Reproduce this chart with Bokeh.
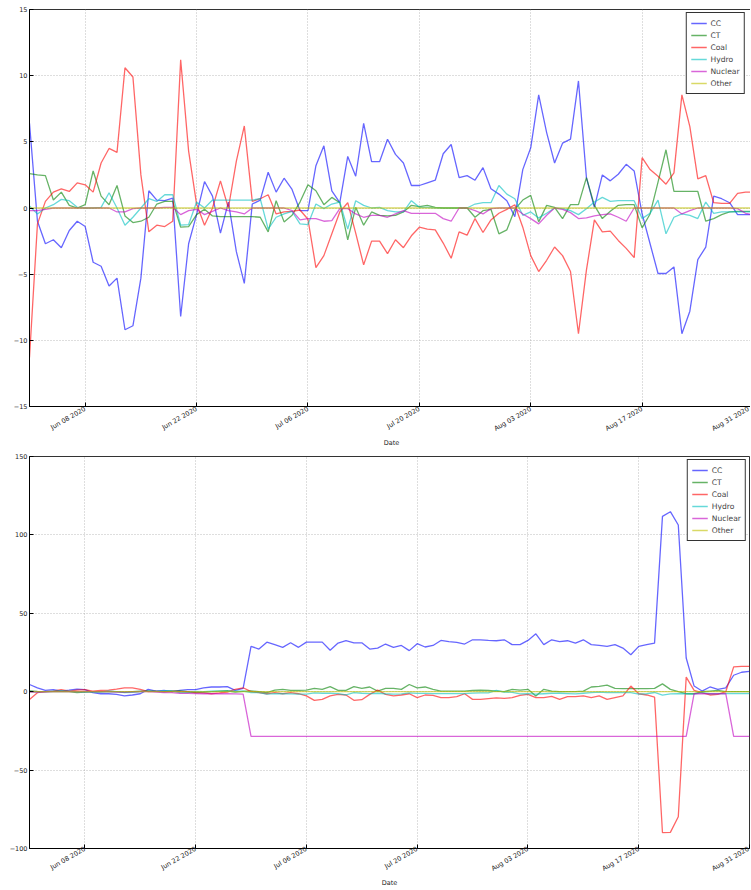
import math
from datetime import datetime, timedelta

from bokeh.plotting import figure
from bokeh.layouts import column
from bokeh.models import Range1d, FixedTicker, DatetimeTickFormatter
from bokeh.embed import file_html
from bokeh.resources import INLINE

# ---------------- data ----------------
start_date = datetime(2020, 6, 1)
n_days = 92
dates = [start_date + timedelta(days=i) for i in range(n_days)]

series_names = ["CC", "CT", "Coal", "Hydro", "Nuclear", "Other"]
series_colors = ["#0000ff", "#008000", "#ff0000", "#00bfbf", "#bf00bf", "#bfbf00"]

# top panel
cc_top = [6.4, -1.0, -2.7, -2.4, -3.0, -1.7, -1.0, -1.4, -4.1, -4.4,
          -5.9, -5.3, -9.2, -8.9, -5.3, 1.3, 0.6, 0.55, 0.75, -8.2,
          -2.7, -0.5, 2.0, 0.9, -1.9, 0.45, -3.3, -5.7, 0.3, 0.6,
          2.7, 1.2, 2.25, 1.4, -0.2, -0.2, 3.2, 4.7, 1.3, 0.4,
          3.9, 2.4, 6.4, 3.5, 3.5, 5.2, 4.05, 3.4, 1.7, 1.7,
          1.9, 2.1, 4.1, 4.8, 2.3, 2.45, 2.1, 3.05, 1.45, 1.05,
          0.55, -0.65, 2.9, 4.55, 8.55, 5.7, 3.4, 4.9, 5.2, 9.6,
          2.3, 0.05, 2.5, 2.05, 2.55, 3.3, 2.8, -0.45, -2.7, -4.95,
          -4.95, -4.45, -9.5, -7.8, -3.9, -2.95, 0.9, 0.7, 0.4, -0.5,
          -0.5, -0.5]
ct_top = [2.6, 2.5, 2.45, 0.6, 1.2, 0.2, 0.0, 0.25, 2.8, 0.9,
          0.25, 1.7, -0.6, -1.1, -1.0, -0.7, 0.3, 0.5, 0.5, -1.45,
          -1.4, -0.5, -0.1, -0.6, -0.65, -0.65, -0.65, -0.65, -0.65, -0.7,
          -1.8, 0.55, -1.05, -0.55, 0.45, 1.75, 1.3, 0.25, 0.8, 0.4,
          -2.4, 0.05, -1.3, -0.3, -0.55, -0.6, -0.55, -0.3, 0.2, 0.1,
          0.2, 0.05, 0.0, 0.0, 0.0, 0.0, -0.7, -0.2, -0.1, -1.95,
          -1.65, -0.1, 0.6, 0.95, -1.05, 0.2, 0.05, -0.8, 0.25, 0.25,
          2.3, 0.2, -0.8, -0.25, 0.2, 0.25, 0.25, -1.5, -0.45, 1.95,
          4.4, 1.25, 1.25, 1.25, 1.25, -1.0, -0.8, -0.5, -0.3, -0.25,
          -0.25, -0.25]
coal_top = [-11.3, -1.2, 0.5, 1.2, 1.45, 1.25, 1.9, 1.75, 1.2, 3.4,
            4.5, 4.2, 10.6, 9.9, 2.5, -1.8, -1.3, -1.4, -1.0, 11.2,
            4.3, 0.3, -1.3, 0.0, 2.05, 0.0, 3.55, 6.2, 0.5, 0.7,
            1.0, -0.45, -0.3, -0.25, -0.15, -0.85, -4.5, -3.6, -1.95, -0.3,
            0.4, -1.9, -4.3, -2.5, -2.5, -3.45, -2.4, -3.0, -2.1, -1.45,
            -1.6, -1.65, -2.65, -3.8, -1.8, -2.05, -0.8, -1.85, -0.9, -0.4,
            -0.1, 0.25, -1.45, -3.6, -4.8, -3.95, -2.95, -3.6, -4.8, -9.5,
            -4.7, -0.9, -1.8, -1.75, -2.45, -3.05, -3.75, 3.8, 2.9, 2.4,
            1.8, 2.65, 8.55, 6.15, 2.2, 2.45, 0.4, 0.35, 0.35, 1.1,
            1.2, 1.2]
hydro_top = [0.15, -0.45, 0.0, 0.25, 0.65, 0.55, 0.05, 0.0, 0.0, 0.05,
             1.15, 0.0, -1.3, -0.7, 0.0, 0.7, 0.5, 1.0, 1.0, -1.3,
             -1.25, 0.45, 0.0, 0.6, 0.6, 0.6, 0.6, 0.6, 0.6, 0.7,
             -1.6, -0.7, -0.45, -0.25, -1.2, -1.25, 0.3, -0.05, 0.3, 0.45,
             -1.6, 0.55, 0.2, 0.0, 0.05, -0.2, -0.3, -0.3, 0.55, 0.05,
             0.05, 0.0, 0.0, 0.0, 0.0, 0.0, 0.3, 0.4, 0.4, 1.7,
             1.05, 0.7, -0.55, -0.3, -0.75, -0.4, 0.0, -0.05, -0.2, -0.5,
             -0.05, 0.45, 0.8, 0.5, 0.55, 0.55, 0.55, -0.8, -0.4, 0.6,
             -1.95, -0.7, -0.45, -0.55, -0.8, 0.45, -0.4, -0.3, -0.3, -0.3,
             -0.3, -0.3]
nuclear_top = [-0.2, -0.2, -0.1, 0.0, 0.0, 0.0, 0.0, 0.0, 0.0, 0.0,
               0.0, -0.3, -0.3, -0.05, 0.0, 0.0, 0.0, 0.05, 0.05, -0.5,
               -0.2, -0.1, -0.5, -0.25, 0.0, -0.2, -0.3, -0.45, 0.0, 0.0,
               0.0, 0.0, 0.0, -0.2, -0.9, -0.8, -0.8, -1.0, -0.95, -0.05,
               -0.05, -0.45, -0.7, -0.55, -0.55, -0.7, -0.45, -0.2, -0.4, -0.4,
               -0.4, -0.4, -0.8, -1.0, 0.0, 0.0, -0.2, -0.45, -0.05, 0.0,
               0.0, 0.0, -0.45, -0.8, -1.2, -0.55, 0.0, -0.1, -0.35, -0.8,
               -0.75, -0.6, -0.5, -0.45, -0.7, -1.0, 0.0, 0.0, 0.0, 0.0,
               0.0, 0.0, -0.45, -0.2, 0.0, 0.0, 0.0, 0.0, 0.0, -0.05,
               -0.4, -0.5]
other_top = [0.0] * n_days

# bottom panel
cc_bot = [4.6, 2.5, 0.8, 1.3, 0.4, 1.0, 1.7, 1.3, -0.6, -1.3,
          -1.3, -1.7, -2.7, -2.1, -1.3, 1.5, 0.4, 0.8, 0.0, 0.8,
          1.3, 1.3, 2.5, 3.0, 3.0, 3.2, 0.8, 2.1, 28.9, 27.2,
          31.6, 30.0, 28.3, 31.2, 28.3, 31.6, 31.6, 31.6, 26.4, 31.0,
          32.5, 31.2, 31.2, 27.2, 27.8, 30.4, 28.3, 29.5, 26.2, 30.6,
          28.5, 29.5, 32.7, 32.0, 31.4, 30.4, 33.1, 33.1, 32.7, 32.5,
          33.1, 30.0, 30.0, 32.7, 36.9, 30.0, 33.1, 32.0, 32.5, 31.0,
          33.1, 30.0, 29.5, 28.9, 30.0, 27.8, 23.6, 28.9, 30.0, 31.0,
          111.8, 114.8, 106.3, 21.5, 3.6, 0.4, 3.0, 1.5, 2.5, 10.5,
          12.4, 13.0]
ct_bot = [0.5, 0.2, 0.0, 0.0, 0.3, 0.0, -0.6, -0.3, 0.0, 0.0,
          0.2, 0.0, -0.3, 0.0, 0.3, 0.5, 0.2, 0.0, 0.3, 0.5,
          0.0, -0.5, -0.3, 0.0, 0.4, 0.6, -0.3, 0.2, 0.5, 0.0,
          -0.6, 1.0, 1.5, 0.8, 0.8, 1.0, 2.1, 1.5, 3.2, 0.8,
          0.8, 3.2, 2.1, 3.0, 0.4, 2.1, 2.1, 1.5, 4.6, 2.5,
          3.0, 1.5, 0.4, 0.4, 0.4, 0.4, 0.8, 1.0, 0.8, 0.4,
          0.0, 1.5, 1.0, 1.5, -2.7, 1.5, 0.4, 0.0, 0.0, 0.0,
          0.4, 3.0, 3.4, 4.2, 2.1, 1.9, 1.9, 1.9, 1.9, 2.1,
          5.0, 1.5, 0.0, -1.3, -1.3, 0.0, 0.4, 0.8, 0.0, 0.0,
          0.0, 0.0]
coal_bot = [-4.9, -0.6, 0.0, 0.4, 1.3, 0.4, 1.0, 1.3, 0.4, 0.8,
            1.0, 1.7, 2.5, 2.5, 1.5, 0.0, 0.4, 0.0, 0.4, 0.0,
            -0.2, -0.6, -0.8, -1.3, -0.8, -0.2, 1.5, 2.5, 0.0, -0.6,
            -1.3, -0.6, -1.3, -0.6, -1.3, -2.7, -5.5, -4.9, -2.7, -1.7,
            -2.1, -5.5, -5.1, -1.7, 1.0, -1.7, -2.7, -2.1, -1.3, -3.8,
            -2.1, -2.3, -3.8, -3.8, -3.2, -1.3, -4.9, -4.9, -4.4, -4.0,
            -4.2, -3.8, -2.3, -1.7, -3.8, -3.8, -3.0, -4.9, -3.2, -3.2,
            -2.7, -3.8, -2.7, -4.9, -3.8, -2.7, 3.6, -1.3, -2.1, -3.4,
            -89.9, -89.7, -79.7, 9.3, 0.8, -0.6, -2.1, -1.7, 0.0, 15.8,
            16.2, 16.2]
hydro_bot = [0.2, -0.3, 0.0, 0.3, 0.5, 0.4, 0.0, -0.2, -0.3, -0.2,
             0.3, 0.0, -0.6, -0.4, 0.0, 0.4, 0.3, 0.6, 0.6, -0.6,
             -0.6, 0.2, 0.0, 0.3, 0.3, 0.3, 0.3, 0.3, -0.5, -0.6,
             -1.5, -1.2, -1.3, -1.4, -1.6, -1.5, -0.8, -1.0, -1.0, -1.2,
             -2.0, -0.6, -1.0, -1.2, -1.0, -1.3, -1.5, -1.4, -0.8, -1.1,
             -1.1, -1.2, -1.2, -1.2, -1.2, -1.2, -0.9, -0.8, -0.8, 0.8,
             -0.2, -0.4, -1.4, -1.2, -1.6, -1.3, -1.0, -1.0, -1.2, -1.4,
             -1.0, -0.6, -0.3, -0.6, -0.6, -0.6, -0.6, -1.6, -1.3, -0.5,
             -2.2, -1.4, -1.2, -1.3, -1.5, -0.6, -1.3, -1.2, -1.2, -1.2,
             -1.2, -1.2]
nuclear_bot = [-0.2, -0.2, -0.1, 0.0, 0.0, 0.0, 0.0, 0.0, 0.0, 0.0,
               0.0, -0.3, -0.3, -0.1, 0.0, 0.0, -0.2, -0.5, -0.6, -1.0,
               -1.1, -1.2, -1.3, -1.3, -1.3, -1.3, -1.4, -1.5, -28.5, -28.5,
               -28.5, -28.5, -28.5, -28.5, -28.5, -28.5, -28.5, -28.5, -28.5, -28.5,
               -28.5, -28.5, -28.5, -28.5, -28.5, -28.5, -28.5, -28.5, -28.5, -28.5,
               -28.5, -28.5, -28.5, -28.5, -28.5, -28.5, -28.5, -28.5, -28.5, -28.5,
               -28.5, -28.5, -28.5, -28.5, -28.5, -28.5, -28.5, -28.5, -28.5, -28.5,
               -28.5, -28.5, -28.5, -28.5, -28.5, -28.5, -28.5, -28.5, -28.5, -28.5,
               -28.5, -28.5, -28.5, -28.5, -1.3, -1.3, -1.3, -1.3, -1.3, -28.5,
               -28.5, -28.5]
other_bot = [0.0] * n_days

x_tick_dates = [datetime(2020, 6, 8), datetime(2020, 6, 22), datetime(2020, 7, 6),
                datetime(2020, 7, 20), datetime(2020, 8, 3), datetime(2020, 8, 17),
                datetime(2020, 8, 31)]
x_start = datetime(2020, 6, 1)
x_end = datetime(2020, 8, 31)

top_yticks = [-15, -10, -5, 0, 5, 10, 15]
bot_yticks = [-100, -50, 0, 50, 100, 150]

FONT = "DejaVu Sans"
TICK_SIZE = "6.5px"


def to_ms(d):
    return (d - datetime(1970, 1, 1)).total_seconds() * 1000.0


def make_panel(series, yticks, frame_w, frame_h, left, top, x_standoff):
    p = figure(frame_width=frame_w, frame_height=frame_h, x_axis_type="datetime",
               output_backend="svg", toolbar_location=None,
               min_border_left=left, min_border_right=1,
               min_border_top=top, min_border_bottom=0,
               background_fill_color="white", border_fill_color="white")
    p.x_range = Range1d(start=to_ms(x_start), end=to_ms(x_end))
    p.y_range = Range1d(start=yticks[0], end=yticks[-1])

    for name, color, vals in zip(series_names, series_colors, series):
        p.line(dates, vals, line_color=color, line_width=1.3, line_alpha=0.6,
               legend_label=name)

    # axes
    p.xaxis.ticker = FixedTicker(ticks=[to_ms(d) for d in x_tick_dates])
    fmt = "%b %d %Y"
    p.xaxis.formatter = DatetimeTickFormatter(
        milliseconds=fmt, seconds=fmt, minsec=fmt, minutes=fmt, hourmin=fmt,
        hours=fmt, days=fmt, months=fmt, years=fmt)
    p.xaxis.major_label_orientation = math.pi / 6
    p.xaxis.axis_label = "Date"
    p.yaxis.ticker = FixedTicker(ticks=yticks)
    p.yaxis.major_label_overrides = {
        t: (("\u2212" + str(abs(t))) if t < 0 else str(t)) for t in yticks}

    for ax in (p.xaxis, p.yaxis):
        ax.major_label_text_font = FONT
        ax.major_label_text_font_size = TICK_SIZE
        ax.major_label_text_color = "#222222"
        ax.axis_label_text_font = FONT
        ax.axis_label_text_font_size = TICK_SIZE
        ax.axis_label_text_font_style = "normal"
        ax.axis_label_text_color = "#222222"
        ax.major_tick_in = 4
        ax.major_tick_out = 0
        ax.minor_tick_line_color = None
        ax.major_tick_line_color = "black"
        ax.axis_line_color = "black"
        ax.major_label_standoff = 2
        ax.axis_label_standoff = 0
    p.xaxis.major_label_standoff = x_standoff

    p.xgrid.ticker = p.xaxis.ticker
    p.ygrid.ticker = p.yaxis.ticker
    for g in (p.xgrid, p.ygrid):
        g.grid_line_color = "#a0a0a0"
        g.grid_line_dash = "1 2"
        g.grid_line_width = 0.7

    p.outline_line_color = "black"
    p.outline_line_width = 1
    p.outline_line_alpha = 0.8

    lg = p.legend[0]
    lg.location = "top_right"
    lg.border_line_color = "black"
    lg.border_line_width = 1
    lg.border_line_alpha = 0.8
    lg.label_text_font = FONT
    lg.label_text_font_size = "7.6px"
    lg.glyph_width = 16
    lg.glyph_height = 12
    lg.label_height = 12
    lg.spacing = 0
    lg.padding = 4
    lg.margin = 3
    lg.label_standoff = 4
    lg.background_fill_alpha = 1.0
    return p


p1 = make_panel([cc_top, ct_top, coal_top, hydro_top, nuclear_top, other_top],
                top_yticks, 724, 397, 25, 9, 2)
p2 = make_panel([cc_bot, ct_bot, coal_bot, hydro_bot, nuclear_bot, other_bot],
                bot_yticks, 720, 392, 29, 6, 0)

layout = column(p1, p2, spacing=0)

with open("out.html", "w") as f:
    f.write(file_html(layout, INLINE))
